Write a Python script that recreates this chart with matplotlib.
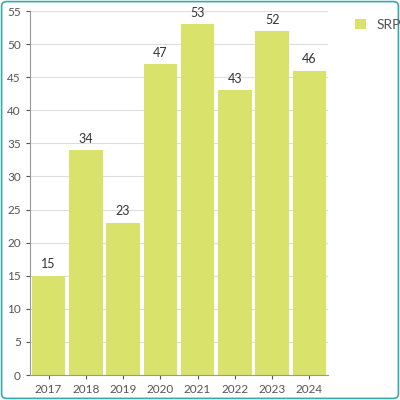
import matplotlib
matplotlib.use("Agg")
import matplotlib.pyplot as plt
from matplotlib.patches import FancyBboxPatch

years = ["2017", "2018", "2019", "2020", "2021", "2022", "2023", "2024"]
srp = [15, 34, 23, 47, 53, 43, 52, 46]

plt.rcParams['font.family'] = ['Lato', 'DejaVu Sans']
fig = plt.figure(figsize=(4, 4), dpi=100)
ax = fig.add_axes([0.075, 0.0625, 0.745, 0.91])
color = "#d9e26a"
x = range(len(years))
bars = ax.bar(x, srp, width=0.9, color=color, label="SRP", zorder=2)
for xi, v in zip(x, srp):
    ax.text(xi, v + 0.8, str(v), ha="center", va="bottom", fontsize=9, color="#333333")
ax.set_xlim(-0.5, 7.5)
ax.set_ylim(0, 55)
ax.set_yticks(range(0, 56, 5))
ax.set_xticks(list(x))
ax.set_xticklabels(years)
ax.tick_params(labelsize=8.5, colors="#555555", length=3)
ax.grid(axis="y", color="#dddddd", linewidth=0.8, zorder=0)
for s in ["top", "right"]:
    ax.spines[s].set_visible(False)
for s in ["left", "bottom"]:
    ax.spines[s].set_color("#999999")
fig.legend(handles=[bars], labels=["SRP"], loc="upper left", bbox_to_anchor=(0.855, 0.985),
           frameon=False, fontsize=10, handlelength=0.8, handleheight=0.8, labelcolor="#555555")
border = FancyBboxPatch((0.004, 0.004), 0.992, 0.992, boxstyle="round,pad=0,rounding_size=0.012",
                        transform=fig.transFigure, fill=False, edgecolor="#3aa8a8", linewidth=1.2)
fig.patches.append(border)
fig.savefig("out.png", dpi=100)
